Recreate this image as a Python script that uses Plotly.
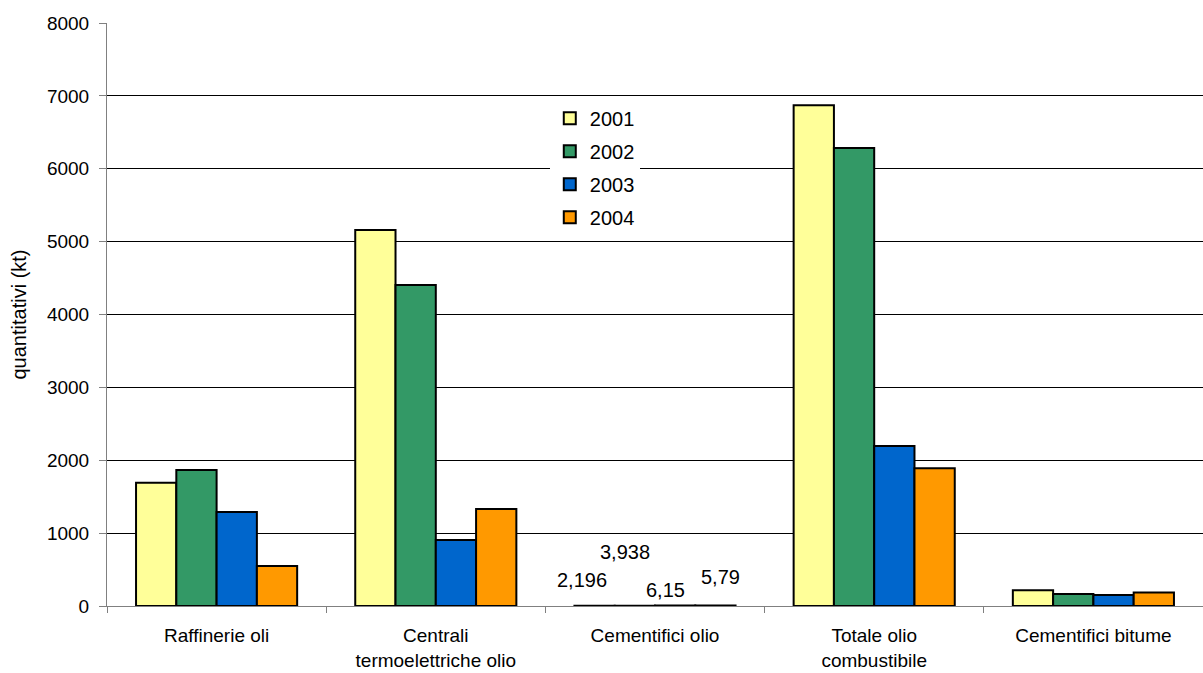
import plotly.graph_objects as go

categories = ["Raffinerie oli", "Centrali<br>termoelettriche olio", "Cementifici olio",
              "Totale olio<br>combustibile", "Cementifici bitume"]
years = ["2001", "2002", "2003", "2004"]
values = {
    "2001": [1690, 5160, 2.196, 6870, 215],
    "2002": [1865, 4405, 3.938, 6285, 165],
    "2003": [1290, 905, 6.15, 2195, 150],
    "2004": [550, 1330, 5.79, 1890, 185],
}
colors = {"2001": "#FFFF99", "2002": "#339966", "2003": "#0066CC", "2004": "#FF9900"}

# staggered value labels for the tiny "Cementifici olio" bars (decimal comma)
label_offsets = {"2001": (-13, 26), "2002": (-10, 54), "2003": (-10, 16), "2004": (5, 29)}

fig = go.Figure()
for y in years:
    fig.add_trace(go.Bar(
        x=categories, y=values[y], name=y, legendgroup=y,
        marker=dict(color=colors[y], line=dict(color="black", width=2)),
    ))

font = "Liberation Sans, Arial, sans-serif"
for i, y in enumerate(years):
    v = values[y][2]
    dx, dy = label_offsets[y]
    fig.add_annotation(
        x=categories[2], y=v, text=str(v).replace(".", ","), showarrow=False,
        xshift=(i - 1.5) * 40 + dx, yshift=dy, yanchor="middle",
        font=dict(family=font, size=20, color="black"),
    )

fig.update_layout(
    width=1203, height=673,
    margin=dict(l=107, r=0, t=23, b=67),
    paper_bgcolor="white", plot_bgcolor="white",
    barmode="group", bargap=0.265, bargroupgap=0,
    font=dict(family=font, size=20, color="black"),
    legend=dict(x=0.404, y=0.87, xanchor="left", yanchor="top",
                bgcolor="white", tracegroupgap=4,
                font=dict(family=font, size=20, color="black")),
    showlegend=True,
)
fig.update_xaxes(
    showline=True, linecolor="#808080", linewidth=1,
    ticks="outside", ticklen=6, tickcolor="#808080", tickson="boundaries",
    showgrid=False, tickfont=dict(size=19), ticklabelstandoff=12,
    automargin=False,
)
fig.update_yaxes(
    range=[0, 8000], dtick=1000, showgrid=True, gridcolor="black", gridwidth=1,
    showline=True, linecolor="#808080", linewidth=1,
    ticks="outside", ticklen=7, tickcolor="#808080", ticklabelstandoff=6,
    tickfont=dict(size=19), zeroline=False, automargin=False,
    title=dict(text="quantitativi (kt)", font=dict(size=20), standoff=14),
)

fig.write_html("out.html")
